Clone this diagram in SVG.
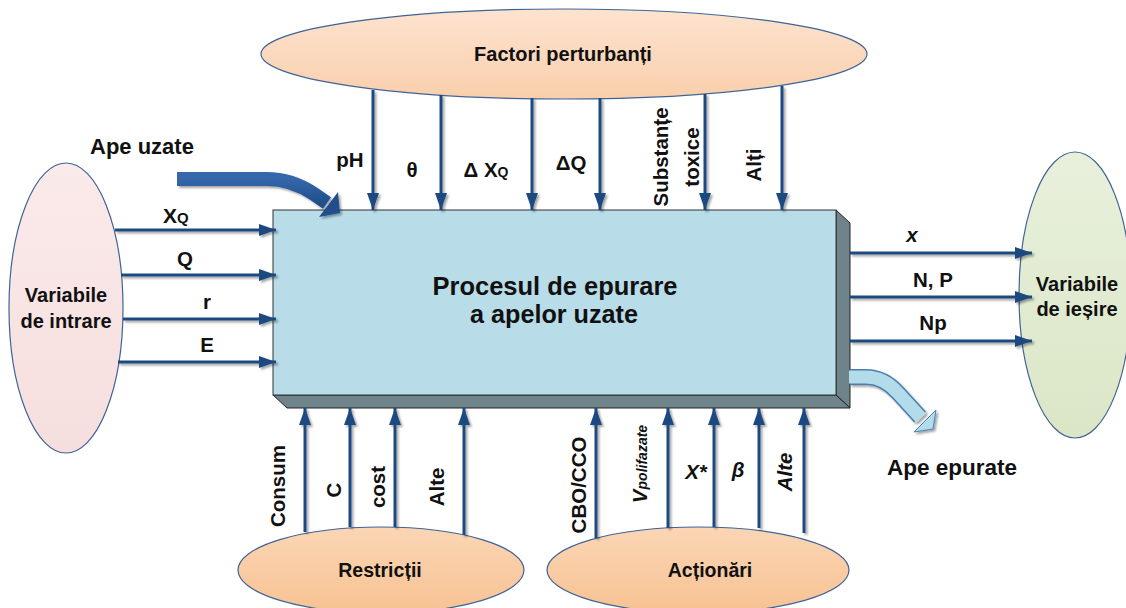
<svg xmlns="http://www.w3.org/2000/svg" width="1126" height="608" viewBox="0 0 1126 608">
<defs>
<style>
.t{font-family:"Liberation Sans",Arial,sans-serif;font-weight:bold;fill:#111;}
.lbl{font-size:20.5px;text-anchor:middle;}
.ell{stroke:#3f6396;stroke-width:1.2;}
.ln{stroke:#1f4a80;stroke-width:3;fill:none;}
</style>
<linearGradient id="gTop" x1="0" y1="0" x2="0" y2="1"><stop offset="0" stop-color="#fde3cf"/><stop offset="1" stop-color="#f9cfac"/></linearGradient>
<linearGradient id="gBot" x1="0" y1="0" x2="0" y2="1"><stop offset="0" stop-color="#fbd6b5"/><stop offset="1" stop-color="#f7c293"/></linearGradient>
<linearGradient id="gIn" x1="0" y1="0" x2="0" y2="1"><stop offset="0" stop-color="#fbeaea"/><stop offset="1" stop-color="#f6dede"/></linearGradient>
<linearGradient id="gOut" x1="0" y1="0" x2="0" y2="1"><stop offset="0" stop-color="#e8f0dc"/><stop offset="1" stop-color="#dbe6c6"/></linearGradient>
<linearGradient id="gBlue" x1="0" y1="0" x2="0" y2="1"><stop offset="0" stop-color="#3467aa"/><stop offset="1" stop-color="#214f8c"/></linearGradient>
<marker id="ah" markerUnits="userSpaceOnUse" markerWidth="18" markerHeight="14" refX="17" refY="7" orient="auto">
<path d="M0,1 L17,7 L0,13 Z" fill="#1f4a80"/>
</marker>
<filter id="sh" x="-20%" y="-20%" width="140%" height="140%">
<feDropShadow dx="2" dy="2" stdDeviation="0.8" flood-color="#000" flood-opacity="0.35"/>
</filter>
</defs>
<rect width="1126" height="608" fill="#fff"/>

<g id="factori">
<ellipse class="ell" cx="564" cy="54" rx="303" ry="45" fill="url(#gTop)"/>
<text class="t" x="563" y="61" font-size="20" text-anchor="middle">Factori perturbanți</text>
</g>

<g id="intrare">
<ellipse class="ell" cx="66" cy="308" rx="57" ry="145" fill="url(#gIn)"/>
<text class="t" x="66" y="302" font-size="20" text-anchor="middle">Variabile</text>
<text class="t" x="66" y="328" font-size="20" text-anchor="middle">de intrare</text>
</g>

<g id="iesire">
<ellipse class="ell" cx="1075" cy="295" rx="56" ry="143" fill="url(#gOut)"/>
<text class="t" x="1077" y="291" font-size="20" text-anchor="middle">Variabile</text>
<text class="t" x="1077" y="316" font-size="20" text-anchor="middle">de ieșire</text>
</g>

<g id="restrictii">
<ellipse class="ell" cx="381" cy="570" rx="143" ry="43" fill="url(#gBot)"/>
<text class="t" x="380" y="577" font-size="19.5" text-anchor="middle">Restricții</text>
</g>

<g id="actionari">
<ellipse class="ell" cx="698" cy="570" rx="151" ry="43" fill="url(#gBot)"/>
<text class="t" x="710" y="577" font-size="19.5" text-anchor="middle">Acționări</text>
</g>

<g id="proces">
<polygon points="836,210 850,223 850,408 836,395" fill="#6e848a" stroke="#222" stroke-width="1"/>
<polygon points="273,395 836,395 850,408 287,408" fill="#6e848a" stroke="#222" stroke-width="1"/>
<rect x="273" y="210" width="563" height="185" fill="#b8dde8" stroke="#333" stroke-width="1"/>
<text class="t" x="555" y="295" font-size="25" text-anchor="middle" textLength="245" lengthAdjust="spacingAndGlyphs">Procesul de epurare</text>
<text class="t" x="554" y="323" font-size="25" text-anchor="middle" textLength="168" lengthAdjust="spacingAndGlyphs">a apelor uzate</text>
</g>

<g id="connectors" filter="url(#sh)">
<line class="ln" x1="115" y1="230" x2="276" y2="230" marker-end="url(#ah)"/>
<line class="ln" x1="121" y1="275" x2="276" y2="275" marker-end="url(#ah)"/>
<line class="ln" x1="123" y1="319" x2="276" y2="319" marker-end="url(#ah)"/>
<line class="ln" x1="118" y1="362" x2="276" y2="362" marker-end="url(#ah)"/>
<line class="ln" x1="373" y1="90" x2="373" y2="210" marker-end="url(#ah)"/>
<line class="ln" x1="441" y1="95" x2="441" y2="210" marker-end="url(#ah)"/>
<line class="ln" x1="532" y1="98" x2="532" y2="210" marker-end="url(#ah)"/>
<line class="ln" x1="600" y1="98" x2="600" y2="210" marker-end="url(#ah)"/>
<line class="ln" x1="705" y1="94" x2="705" y2="210" marker-end="url(#ah)"/>
<line class="ln" x1="782" y1="86" x2="782" y2="210" marker-end="url(#ah)"/>
<line class="ln" x1="850" y1="253" x2="1032" y2="253" marker-end="url(#ah)"/>
<line class="ln" x1="850" y1="297" x2="1032" y2="297" marker-end="url(#ah)"/>
<line class="ln" x1="850" y1="341" x2="1032" y2="341" marker-end="url(#ah)"/>
<line class="ln" x1="305" y1="532" x2="305" y2="408" marker-end="url(#ah)"/>
<line class="ln" x1="350" y1="527" x2="350" y2="408" marker-end="url(#ah)"/>
<line class="ln" x1="395" y1="527" x2="395" y2="408" marker-end="url(#ah)"/>
<line class="ln" x1="464" y1="535" x2="464" y2="408" marker-end="url(#ah)"/>
<line class="ln" x1="596" y1="538" x2="596" y2="408" marker-end="url(#ah)"/>
<line class="ln" x1="668" y1="528" x2="668" y2="408" marker-end="url(#ah)"/>
<line class="ln" x1="714" y1="527" x2="714" y2="408" marker-end="url(#ah)"/>
<line class="ln" x1="759" y1="528" x2="759" y2="408" marker-end="url(#ah)"/>
<line class="ln" x1="804" y1="533" x2="804" y2="408" marker-end="url(#ah)"/>
<path d="M177,179 L266,179 Q292,179 314,194 L327,203" fill="none" stroke="url(#gBlue)" stroke-width="14"/>
<polygon points="338,192 319,217 340,213" fill="#234f8c"/>
<path d="M850,377 L866,377 Q884,377 898,393 L920,417" fill="none" stroke="#4a7fb0" stroke-width="16"/>
<path d="M849,377 L866,377 Q884,377 898,393 L921,418" fill="none" stroke="#b3dcea" stroke-width="13"/>
<polygon points="936,410 914,432 933,429" fill="#b3dcea" stroke="#4a7fb0" stroke-width="1"/>
</g>

<g id="labels">
<text class="t" x="90" y="154" font-size="22">Ape uzate</text>
<text class="t" x="163" y="223" font-size="21">X<tspan font-size="15">Q</tspan></text>
<text class="t lbl" x="185" y="266" font-size="21">Q</text>
<text class="t lbl" x="207" y="309" font-size="21">r</text>
<text class="t lbl" x="207" y="352" font-size="21">E</text>

<text class="t lbl" x="350" y="167">pH</text>
<text class="t lbl" x="412" y="177">θ</text>
<text class="t lbl" x="486" y="177">Δ X<tspan font-size="14">Q</tspan></text>
<text class="t lbl" x="571" y="170">ΔQ</text>
<text class="t lbl" transform="translate(661,157) rotate(-90)" x="0" y="7">Substanțe</text>
<text class="t lbl" transform="translate(692,157) rotate(-90)" x="0" y="7">toxice</text>
<text class="t lbl" transform="translate(754,165) rotate(-90)" x="0" y="7">Alți</text>

<text class="t lbl" x="912" y="242" font-style="italic">x</text>
<text class="t lbl" x="933" y="287">N, P</text>
<text class="t lbl" x="933" y="330">Np</text>
<text class="t" x="952" y="475" font-size="22.5" text-anchor="middle">Ape epurate</text>

<text class="t lbl" transform="translate(278,486) rotate(-90)" x="0" y="7">Consum</text>
<text class="t lbl" transform="translate(334,490) rotate(-90)" x="0" y="7">C</text>
<text class="t lbl" transform="translate(378,487) rotate(-90)" x="0" y="7">cost</text>
<text class="t lbl" transform="translate(437,487) rotate(-90)" x="0" y="7">Alte</text>
<text class="t lbl" transform="translate(579,485) rotate(-90)" x="0" y="7">CBO/CCO</text>
<text class="t lbl" transform="translate(640,464) rotate(-90)" x="0" y="7" font-style="italic">V<tspan font-size="14">polifazate</tspan></text>
<text class="t lbl" x="696" y="479" font-style="italic">X*</text>
<text class="t lbl" x="738" y="477" font-style="italic">β</text>
<text class="t lbl" transform="translate(785,472) rotate(-90)" x="0" y="7" font-style="italic">Alte</text>
</g>
</svg>
